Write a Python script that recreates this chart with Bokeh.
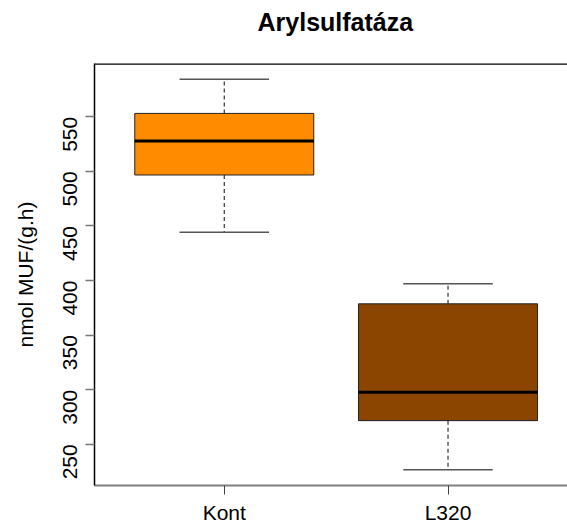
from bokeh.plotting import figure
from bokeh.models import FixedTicker, Span, ColumnDataSource, LinearAxis
from bokeh.embed import file_html
from bokeh.resources import INLINE
import math

categories = ["Kont", "L320"]
whisker_low = [444.3, 226.6]
q1 = [496.7, 271.7]
median = [527.8, 297.6]
q3 = [553.1, 378.7]
whisker_high = [584.5, 397.0]
colors = ["#FF8C00", "#8B4500"]
y_ticks = [250, 300, 350, 400, 450, 500, 550]
title_text = "Arylsulfatáza"

pos = [i + 1 for i in range(len(categories))]
src = ColumnDataSource(dict(
    x=pos, lo=whisker_low, q1=q1, med=median, q3=q3, hi=whisker_high, color=colors,
    xl=[x - 0.4 for x in pos], xr=[x + 0.4 for x in pos],
    cl=[x - 0.2 for x in pos], cr=[x + 0.2 for x in pos],
))

lo_all = min(whisker_low); hi_all = max(whisker_high)
pad = (hi_all - lo_all) * 0.04

p = figure(width=567, height=526, output_backend="svg", toolbar_location=None,
           x_range=(0.42, 2.534), y_range=(lo_all - pad, hi_all + pad),
           min_border_left=94, min_border_right=0, min_border_top=63, min_border_bottom=38)
p.grid.visible = False
p.outline_line_color = None
p.background_fill_color = "white"
p.border_fill_color = "white"

xax = p.below[0]

# invisible spacer axis between frame and title (ticks and labels not drawn)
spacer = LinearAxis(ticker=FixedTicker(ticks=pos, minor_ticks=[]), axis_line_color=None,
                    major_tick_line_color=None, minor_tick_line_color=None,
                    major_tick_in=0, major_tick_out=21, minor_tick_in=0, minor_tick_out=0,
                    major_label_text_font_size="0px", major_label_text_color=None)
p.add_layout(spacer, "above")

p.title.text = title_text
p.title.text_font = "Liberation Sans"
p.title.text_font_style = "bold"
p.title.text_font_size = "25px"
p.title.text_color = "black"
p.title.align = "left"
p.title.offset = 163
p.title.vertical_align = "top"
p.title.standoff = 10

# whiskers
p.segment(x0="x", y0="q3", x1="x", y1="hi", source=src, line_color="#333333", line_width=1.2, line_dash="4 3")
p.segment(x0="x", y0="q1", x1="x", y1="lo", source=src, line_color="#333333", line_width=1.2, line_dash="4 3")
p.segment(x0="cl", y0="hi", x1="cr", y1="hi", source=src, line_color="#555555", line_width=1.5)
p.segment(x0="cl", y0="lo", x1="cr", y1="lo", source=src, line_color="#555555", line_width=1.5)
# boxes
p.quad(left="xl", right="xr", bottom="q1", top="q3", source=src, fill_color="color", line_color="#222222", line_width=1)
p.segment(x0="xl", y0="med", x1="xr", y1="med", source=src, line_color="black", line_width=3)

# top frame line
p.add_layout(Span(location=hi_all + pad, dimension="width", line_color="black", line_width=2.5))

# axes
xax.ticker = FixedTicker(ticks=pos)
xax.major_label_overrides = {x: c for x, c in zip(pos, categories)}
xax.minor_tick_line_color = None
xax.major_tick_in = 0
xax.major_tick_out = 9
xax.major_tick_line_color = "#444444"
xax.axis_line_color = "#808080"
xax.axis_line_width = 2
xax.major_label_text_font = "Liberation Sans"
xax.major_label_text_font_size = "21px"
xax.major_label_text_color = "black"
xax.major_label_standoff = 6

p.yaxis.ticker = FixedTicker(ticks=y_ticks)
p.yaxis.minor_tick_line_color = None
p.yaxis.major_tick_in = 0
p.yaxis.major_tick_out = 9
p.yaxis.major_tick_line_color = "#777777"
p.yaxis.major_tick_line_width = 1.5
p.yaxis.axis_line_color = "black"
p.yaxis.axis_line_width = 1.5
p.yaxis.major_label_orientation = math.pi / 2
p.yaxis.major_label_text_font = "Liberation Sans"
p.yaxis.major_label_text_font_size = "21px"
p.yaxis.major_label_text_color = "black"
p.yaxis.major_label_standoff = 15
p.yaxis.axis_label = "nmol MUF/(g.h)"
p.yaxis.axis_label_text_font = "Liberation Sans"
p.yaxis.axis_label_text_font_size = "21px"
p.yaxis.axis_label_text_font_style = "normal"
p.yaxis.axis_label_text_color = "black"
p.yaxis.axis_label_standoff = 17

open("out.html", "w").write(file_html(p, INLINE))
